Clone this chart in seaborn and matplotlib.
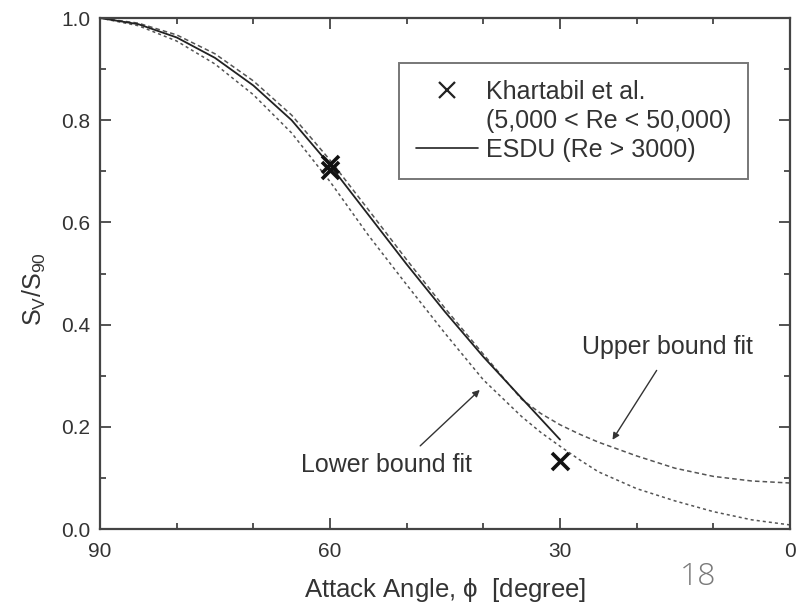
import matplotlib
matplotlib.use("Agg")
import matplotlib.pyplot as plt
from matplotlib.lines import Line2D
from matplotlib.ticker import MultipleLocator
import numpy as np
import pandas as pd
import seaborn as sns

# Attack angle grid (degrees) for the fitted curves
angle_fit = [90, 85, 80, 75, 70, 65, 60, 55, 50, 45, 40, 35, 32.5, 30, 27.5, 25,
             20, 15, 10, 5, 0]
upper_fit = [1.000, 0.990, 0.967, 0.930, 0.877, 0.810, 0.722, 0.625, 0.527, 0.432,
             0.342, 0.254, 0.226, 0.204, 0.186, 0.170, 0.143, 0.119, 0.103, 0.094,
             0.090]
lower_fit = [1.000, 0.985, 0.955, 0.910, 0.850, 0.775, 0.680, 0.575, 0.478, 0.383,
             0.292, 0.220, 0.189, 0.162, 0.136, 0.112, 0.079, 0.055, 0.034, 0.018,
             0.008]

# ESDU correlation (Re > 3000)
angle_esdu = [90, 85, 80, 75, 70, 65, 60, 55, 50, 45, 40, 35, 30]
esdu_ratio = [1.000, 0.988, 0.962, 0.922, 0.868, 0.800, 0.712, 0.615, 0.518,
              0.425, 0.337, 0.256, 0.175]

# Khartabil et al. measurements
angle_exp = [60, 60, 30]
ratio_exp = [0.715, 0.702, 0.133]

sns.set_style("ticks")
plt.rcParams["font.family"] = ["Liberation Sans", "DejaVu Sans"]
plt.rcParams["mathtext.fontset"] = "custom"
plt.rcParams["mathtext.rm"] = "Liberation Sans"
plt.rcParams["mathtext.it"] = "Liberation Sans"

ink = "#333333"
fig = plt.figure(figsize=(7.98, 6.03), dpi=100)
ax = fig.add_axes([0.1253, 0.1227, 0.8647, 0.8474])

df_up = pd.DataFrame({"angle": angle_fit, "ratio": upper_fit})
df_lo = pd.DataFrame({"angle": angle_fit, "ratio": lower_fit})
df_es = pd.DataFrame({"angle": angle_esdu, "ratio": esdu_ratio})
df_ex = pd.DataFrame({"angle": angle_exp, "ratio": ratio_exp})

sns.lineplot(data=df_up, x="angle", y="ratio", ax=ax, color="#555555",
             linewidth=1.1, linestyle=(0, (3, 2)))
sns.lineplot(data=df_lo, x="angle", y="ratio", ax=ax, color="#555555",
             linewidth=1.1, linestyle=(0, (2, 2)))
sns.lineplot(data=df_es, x="angle", y="ratio", ax=ax, color="#222222",
             linewidth=1.3)
sns.scatterplot(data=df_ex, x="angle", y="ratio", ax=ax, marker="x", s=150,
                color="#111111", linewidth=2.6, zorder=5)

ax.set_xlim(90, 0)
ax.set_ylim(0, 1.0)
ax.xaxis.set_major_locator(MultipleLocator(30))
ax.xaxis.set_minor_locator(MultipleLocator(10))
ax.yaxis.set_major_locator(MultipleLocator(0.2))
ax.yaxis.set_minor_locator(MultipleLocator(0.1))
ax.yaxis.set_major_formatter(plt.FuncFormatter(lambda v, p: f"{v:.1f}"))

ax.tick_params(which="both", direction="in", top=True, right=True,
               color="#444444", width=1.3)
ax.tick_params(which="major", length=8, labelsize=15, labelcolor=ink)
ax.tick_params(which="minor", length=4.5)
ax.tick_params(axis="x", which="major", pad=9)
ax.tick_params(axis="y", which="major", pad=7)
for sp in ax.spines.values():
    sp.set_color("#444444")
    sp.set_linewidth(1.6)

ax.set_xlabel(r"Attack Angle, $\phi$  [degree]", fontsize=18.5, color=ink, labelpad=11)
ax.set_ylabel(r"S$_V$/S$_{90}$", fontsize=18, color=ink)
ax.yaxis.set_label_coords(-0.075, 0.47)

# Legend
h_exp = Line2D([], [], linestyle="none", marker="x", markersize=12,
               markeredgewidth=1.6, color="#222222")
h_gap = Line2D([], [], linestyle="none", marker=None)
h_esdu = Line2D([], [], color="#222222", linewidth=1.2)
leg = ax.legend([h_exp, h_gap, h_esdu],
                ["Khartabil et al.", "(5,000 < Re < 50,000)", "ESDU (Re > 3000)"],
                loc="upper right", bbox_to_anchor=(0.939, 0.912), borderaxespad=0,
                fontsize=18, frameon=True, fancybox=False, edgecolor="#555555",
                handlelength=2.5, handletextpad=0.3, borderpad=0.68,
                labelspacing=0.2)
leg.get_frame().set_linewidth(1.4)
for t in leg.get_texts():
    t.set_color(ink)

# Fit annotations
arrow = dict(arrowstyle="-|>", color="#333333", lw=1.0, mutation_scale=10)
ax.annotate("Upper bound fit", xy=(23.35, 0.170), xytext=(16.05, 0.356),
            textcoords="data", fontsize=18, color=ink, ha="center", va="center")
ax.annotate("", xy=(23.35, 0.170), xytext=(17.2, 0.315), arrowprops=arrow)
ax.annotate("Lower bound fit", xy=(40.2, 0.276), xytext=(52.6, 0.125),
            fontsize=18, color=ink, ha="center", va="center")
ax.annotate("", xy=(40.2, 0.276), xytext=(48.5, 0.159), arrowprops=arrow)

fig.text(698 / 798, 1 - 577 / 603, "18", fontsize=23, color="#7a7a7a",
         family=["Open Sans", "DejaVu Sans"], fontweight="light",
         ha="center", va="center")

fig.savefig("out.png", dpi=100)
